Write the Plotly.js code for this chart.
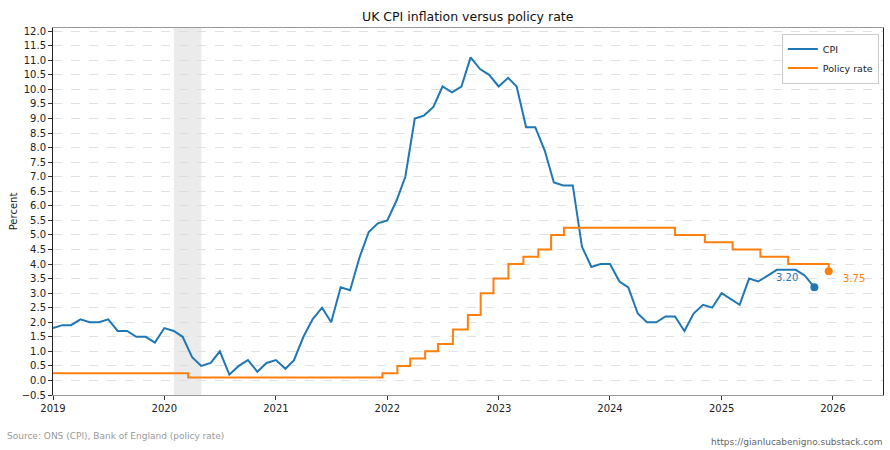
<!DOCTYPE html>
<html>
<head>
<meta charset="utf-8">
<script src="https://cdn.plot.ly/plotly-3.0.1.min.js"></script>
<style>html,body{margin:0;padding:0;background:#fff;}#chart{width:890px;height:450px;}</style>
</head>
<body>
<div id="chart"></div>
<script>
// CPI, monthly from Jan 2019 (12-month rate, %)
const cpiStart = [2019, 1];
const cpiValues = [
  1.8, 1.9, 1.9, 2.1, 2.0, 2.0, 2.1, 1.7, 1.7, 1.5, 1.5, 1.3,
  1.8, 1.7, 1.5, 0.8, 0.5, 0.6, 1.0, 0.2, 0.5, 0.7, 0.3, 0.6,
  0.7, 0.4, 0.7, 1.5, 2.1, 2.5, 2.0, 3.2, 3.1, 4.2, 5.1, 5.4,
  5.5, 6.2, 7.0, 9.0, 9.1, 9.4, 10.1, 9.9, 10.1, 11.1, 10.7, 10.5,
  10.1, 10.4, 10.1, 8.7, 8.7, 7.9, 6.8, 6.7, 6.7, 4.6, 3.9, 4.0,
  4.0, 3.4, 3.2, 2.3, 2.0, 2.0, 2.2, 2.2, 1.7, 2.3, 2.6, 2.5,
  3.0, 2.8, 2.6, 3.5, 3.4, 3.6, 3.8, 3.8, 3.8, 3.6, 3.2
];
// Policy rate decision dates and levels (%)
const rateDates = [
  '2019-01-01', '2020-03-19', '2021-12-16', '2022-02-03', '2022-03-17', '2022-05-05',
  '2022-06-16', '2022-08-04', '2022-09-22', '2022-11-03', '2022-12-15', '2023-02-02',
  '2023-03-23', '2023-05-11', '2023-06-22', '2023-08-03', '2024-08-01', '2024-11-07',
  '2025-02-06', '2025-05-08', '2025-08-07', '2025-12-18'
];
const rateValues = [
  0.25, 0.10, 0.25, 0.50, 0.75, 1.00,
  1.25, 1.75, 2.25, 3.00, 3.50, 4.00,
  4.25, 4.50, 5.00, 5.25, 5.00, 4.75,
  4.50, 4.25, 4.00, 3.75
];
const shadeStart = '2020-02-01';
const shadeEnd = '2020-05-01';
const yTicks = [];
for (let v = -0.5; v <= 12.0001; v += 0.5) yTicks.push(Math.round(v * 10) / 10);

const cpiDates = cpiValues.map((_, i) => {
  const m = cpiStart[1] - 1 + i;
  const y = cpiStart[0] + Math.floor(m / 12);
  const mm = (m % 12) + 1;
  return y + '-' + String(mm).padStart(2, '0') + '-01';
});

const blue = '#1f77b4', orange = '#ff7f0e';
const lastCpiX = cpiDates[cpiDates.length - 1], lastCpiY = cpiValues[cpiValues.length - 1];
const lastRateX = rateDates[rateDates.length - 1], lastRateY = rateValues[rateValues.length - 1];

const traces = [
  {x: cpiDates, y: cpiValues, type: 'scatter', mode: 'lines', name: 'CPI',
   line: {color: blue, width: 2}},
  {x: rateDates, y: rateValues, type: 'scatter', mode: 'lines', name: 'Policy rate',
   line: {color: orange, width: 2, shape: 'hv'}},
  {x: [lastCpiX], y: [lastCpiY], type: 'scatter', mode: 'markers', showlegend: false,
   marker: {color: blue, size: 8}},
  {x: [lastRateX], y: [lastRateY], type: 'scatter', mode: 'markers', showlegend: false,
   marker: {color: orange, size: 8}}
];

const layout = {
  width: 890, height: 450,
  margin: {l: 53, r: 7, t: 28, b: 55},
  paper_bgcolor: '#fff', plot_bgcolor: '#fff',
  font: {family: 'DejaVu Sans, sans-serif', size: 10, color: '#222'},
  title: {text: 'UK CPI inflation versus policy rate', x: 0.5255, xanchor: 'center', y: 0.962, yanchor: 'middle',
          font: {size: 12.5, color: '#111'}},
  xaxis: {type: 'date', range: ['2019-01-01', '2026-06-14'],
          tickvals: ['2019-01-01','2020-01-01','2021-01-01','2022-01-01','2023-01-01','2024-01-01','2025-01-01','2026-01-01'],
          ticktext: ['2019','2020','2021','2022','2023','2024','2025','2026'],
          showgrid: false, zeroline: false, showline: true, linecolor: '#999', linewidth: 1, mirror: true,
          ticks: 'outside', ticklen: 4, tickcolor: '#333', tickfont: {size: 10, color: '#222'}},
  yaxis: {range: [-0.5, 12.11], tickvals: yTicks, ticktext: yTicks.map(v => (v < 0 ? '\u2212' : '') + Math.abs(v).toFixed(1)),
          showgrid: true, gridcolor: '#d9d9d9', griddash: 'dash', gridwidth: 0.8,
          zeroline: false, showline: true, linecolor: '#222', linewidth: 1, mirror: true,
          ticks: 'outside', ticklen: 4, tickcolor: '#333', tickfont: {size: 10, color: '#222'},
          title: {text: 'Percent', font: {size: 10, color: '#222'}, standoff: 2}},
  showlegend: true,
  legend: {x: 0.995, xanchor: 'right', y: 0.985, yanchor: 'top', bgcolor: 'rgba(255,255,255,0.9)',
           bordercolor: '#ccc', borderwidth: 1, font: {size: 9.5, color: '#222'}, tracegroupgap: 0,
           itemwidth: 30},
  shapes: [
    {type: 'rect', xref: 'x', yref: 'paper', x0: shadeStart, x1: shadeEnd, y0: 0, y1: 1,
     fillcolor: '#ebebeb', opacity: 1, line: {width: 0}, layer: 'below'}
  ],
  annotations: [
    {x: lastCpiX, y: lastCpiY, xref: 'x', yref: 'y', text: lastCpiY.toFixed(2), showarrow: false,
     xshift: -27, yshift: 10, font: {size: 10, color: blue}},
    {x: lastRateX, y: lastRateY, xref: 'x', yref: 'y', text: lastRateY.toFixed(2), showarrow: false,
     xshift: 25, yshift: -7, font: {size: 10, color: orange}},
    {x: -0.058, y: -0.112, xref: 'paper', yref: 'paper', xanchor: 'left', yanchor: 'middle', showarrow: false,
     text: 'Source: ONS (CPI), Bank of England (policy rate)', font: {size: 9, color: '#999'}},
    {x: 1.0024, y: -0.128, xref: 'paper', yref: 'paper', xanchor: 'right', yanchor: 'middle', showarrow: false,
     text: 'https://gianlucabenigno.substack.com', font: {size: 9, color: '#666'}}
  ]
};

Plotly.newPlot('chart', traces, layout, {displayModeBar: false, staticPlot: true});
</script>
</body>
</html>
